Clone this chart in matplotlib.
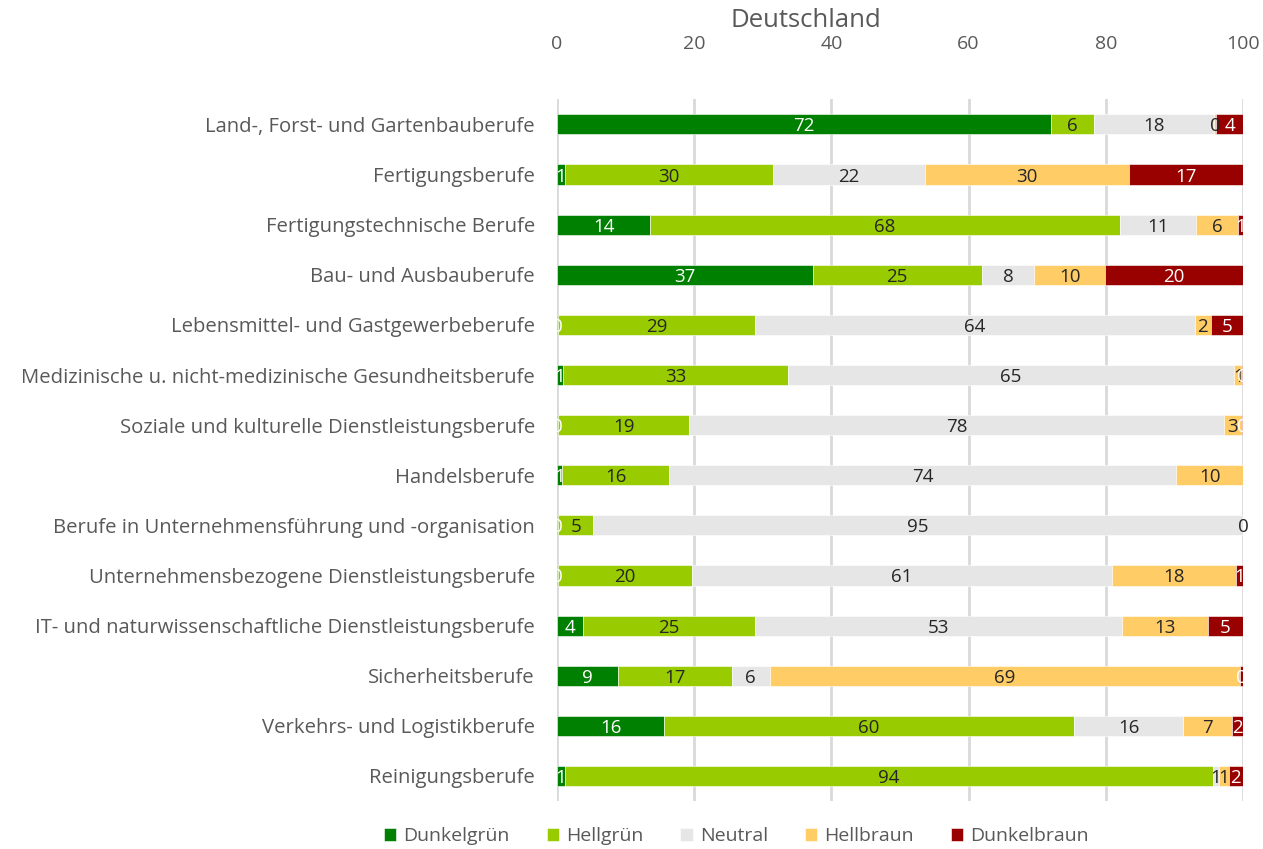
import matplotlib.pyplot as plt
import numpy as np

plt.rcParams['font.family'] = ['Open Sans', 'DejaVu Sans']

categories = [
    'Land-, Forst- und Gartenbauberufe',
    'Fertigungsberufe',
    'Fertigungstechnische Berufe',
    'Bau- und Ausbauberufe',
    'Lebensmittel- und Gastgewerbeberufe',
    'Medizinische u. nicht-medizinische Gesundheitsberufe',
    'Soziale und kulturelle Dienstleistungsberufe',
    'Handelsberufe',
    'Berufe in Unternehmensführung und -organisation',
    'Unternehmensbezogene Dienstleistungsberufe',
    'IT- und naturwissenschaftliche Dienstleistungsberufe',
    'Sicherheitsberufe',
    'Verkehrs- und Logistikberufe',
    'Reinigungsberufe',
]
nan = np.nan
dunkelgruen = [72.0, 1.2, 13.6, 37.3, 0.2, 0.9, 0.2, 0.7, 0.2, 0.2, 3.8, 8.9, 15.6, 1.2]
hellgruen = [6.3, 30.3, 68.4, 24.6, 28.6, 32.8, 19.1, 15.7, 5.1, 19.5, 25.1, 16.6, 59.8, 94.4]
neutral = [17.5, 22.2, 11.2, 7.7, 64.2, 65.0, 77.9, 73.9, 94.7, 61.2, 53.4, 5.5, 15.9, 0.9]
hellbraun = [0.3, 29.7, 6.0, 10.3, 2.3, 1.2, 2.6, 9.7, 0.0, 18.1, 12.6, 68.6, 7.1, 1.4]
dunkelbraun = [4.0, 16.6, 0.8, 20.1, 4.7, 0.1, 0.2, nan, nan, 1.0, 5.1, 0.4, 1.6, 2.1]

series = [
    ('Dunkelgrün', dunkelgruen, '#008000', 'white'),
    ('Hellgrün', hellgruen, '#99CC00', '#262626'),
    ('Neutral', neutral, '#E6E6E6', '#262626'),
    ('Hellbraun', hellbraun, '#FFCC66', '#262626'),
    ('Dunkelbraun', dunkelbraun, '#990000', 'white'),
]

fig = plt.figure(figsize=(12.63, 8.49), dpi=100)
ax = fig.add_axes([0.441, 0.0565, 0.5432, 0.8265])

y = np.arange(len(categories))
left = np.zeros(len(categories))
for name, vals, col, tcol in series:
    v = np.array(vals, dtype=float)
    w = np.nan_to_num(v)
    ax.barh(y, w, left=left, height=0.4, color=col, label=name,
            edgecolor='white', linewidth=0.4, zorder=3)
    for i in range(len(v)):
        if not np.isnan(v[i]):
            ax.text(left[i] + w[i] / 2, y[i] + 0.04, str(int(round(v[i]))),
                    ha='center', va='center', fontsize=13.5, color=tcol, zorder=4)
    left += w

ax.set_xlim(0, 100)
ax.set_ylim(len(categories) - 0.5, -0.5)
ax.set_yticks(y)
ax.set_yticklabels(categories, fontsize=14.6, color='#595959')
ax.set_xticks(range(0, 101, 20))
ax.xaxis.tick_top()
ax.tick_params(axis='x', labelsize=14, labelcolor='#595959', length=0, pad=33)
ax.tick_params(axis='y', length=0, pad=16)
ax.grid(axis='x', color='#D9D9D9', linewidth=2, zorder=0)
for s in ax.spines.values():
    s.set_visible(False)

fig.text(0.638, 0.976, 'Deutschland', ha='center', va='center',
         fontsize=18.5, color='#595959')

fig.legend(loc='center', bbox_to_anchor=(0.583, 0.015), ncol=5, frameon=False,
           fontsize=14, handlelength=0.65, handleheight=0.65, handletextpad=0.35,
           columnspacing=1.9, labelcolor='#595959')

fig.savefig('out.png', dpi=100)
